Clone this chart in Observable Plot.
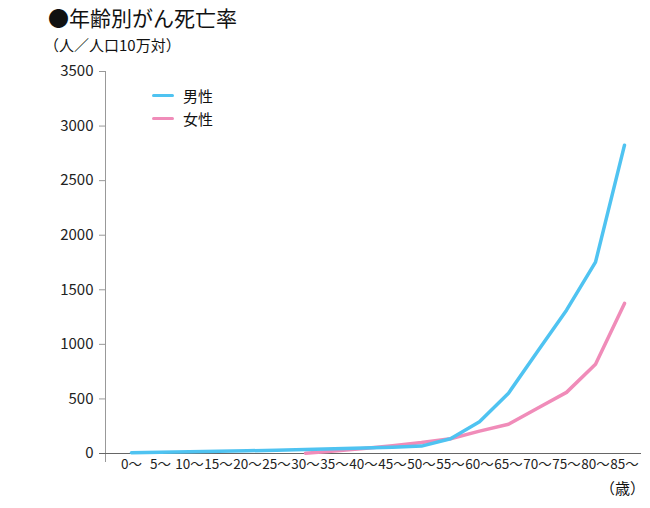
<!DOCTYPE html>
<html><head><meta charset="utf-8">
<script src="https://cdn.jsdelivr.net/npm/d3@7"></script>
<script src="https://cdn.jsdelivr.net/npm/@observablehq/plot@0.6"></script>
<style>
body{margin:0;background:#fff;font-family:"Noto Sans CJK JP","Noto Sans",sans-serif;}
#wrap{position:relative;width:650px;height:508px;overflow:hidden;background:#fff}
.t{position:absolute;white-space:nowrap;color:#111;line-height:1}
#chart{position:absolute;left:0;top:56px}
.leg{position:absolute;display:flex;align-items:center;font-size:15px;line-height:1;color:#111}
.leg span.sw{display:inline-block;width:22px;height:3.5px;border-radius:2px;margin-right:9px}
</style></head><body>
<div id="wrap">
<div class="t" style="left:48px;top:7px;font-size:21px">●年齢別がん死亡率</div>
<div class="t" style="left:44px;top:37px;font-size:15px">（人／人口10万対）</div>
<div id="chart"></div>
<div class="leg" style="left:152px;top:88px"><span class="sw" id="swM"></span><span>男性</span></div>
<div class="leg" style="left:152px;top:111px"><span class="sw" id="swF"></span><span>女性</span></div>
<div class="t" style="left:600px;top:480px;font-size:15px">（歳）</div>
</div>
<script>
const ageLabels = ["0〜","5〜","10〜","15〜","20〜","25〜","30〜","35〜","40〜","45〜","50〜","55〜","60〜","65〜","70〜","75〜","80〜","85〜"];
const maleRates = [8,12,16,20,25,30,37,43,50,58,68,135,290,553,935,1313,1753,2825];
const femaleRates = [null,null,null,null,null,null,3,22,45,72,100,135,205,268,415,560,818,1375];
const yTicks = [0,500,1000,1500,2000,2500,3000,3500];
const seriesNames = ["男性","女性"];
const colors = ["#4fc3f1","#f08cb9"];

document.getElementById("swM").style.background = colors[0];
document.getElementById("swF").style.background = colors[1];

const rows = ageLabels.map((a,i)=>({age:a, male:maleRates[i], female:femaleRates[i]}));

const chart = Plot.plot({
  width:650, height:452,
  marginTop:15, marginBottom:55, marginLeft:105, marginRight:9,
  x:{type:"point", domain:ageLabels, range:[126,628], padding:0},
  y:{domain:[0,3500]},
  style:{fontFamily:'"Noto Sans CJK JP","Noto Sans",sans-serif', fontSize:"15px", color:"#222", background:"white", overflow:"visible"},
  marks:[
    Plot.frame({anchor:"left", stroke:"#999", insetBottom:-8}),
    Plot.axisY({ticks:yTicks, tickSize:6, tickPadding:6, stroke:"#999", label:null, tickFormat:d=>String(d)}),
    Plot.axisX({tickSize:0, tickPadding:6, label:null, fontSize:13.5}),
    Plot.ruleY([0], {stroke:"#666", strokeWidth:1.2, insetLeft:-6}),
    Plot.lineY(rows, {x:"age", y:"female", stroke:colors[1], strokeWidth:3.5}),
    Plot.lineY(rows, {x:"age", y:"male", stroke:colors[0], strokeWidth:3.5})
  ]
});
document.getElementById("chart").appendChild(chart);
</script>
</body></html>
